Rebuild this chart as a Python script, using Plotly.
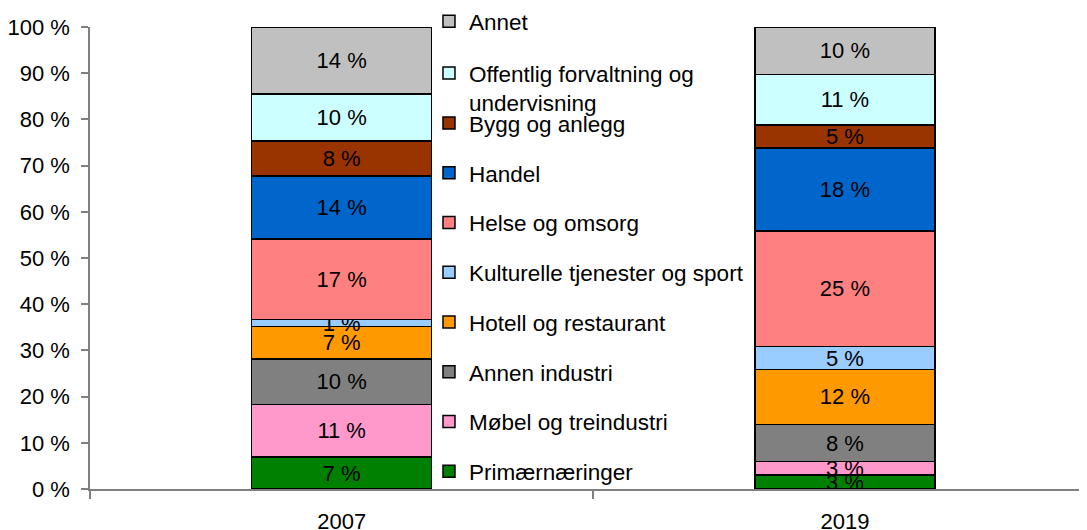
import plotly.graph_objects as go

years = ["2007", "2019"]
sectors = [
    "Primærnæringer",
    "Møbel og treindustri",
    "Annen industri",
    "Hotell og restaurant",
    "Kulturelle tjenester og sport",
    "Helse og omsorg",
    "Handel",
    "Bygg og anlegg",
    "Offentlig forvaltning og<br>undervisning",
    "Annet",
]
share_2007 = [6.9, 11.4, 9.8, 7.1, 1.45, 17.49, 13.6, 7.6, 10.2, 14.4]
share_2019 = [3.0, 2.9, 8.1, 11.9, 4.9, 25.0, 18.0, 5.0, 10.9, 10.25]
colors = ["#008000", "#FF99CC", "#808080", "#FF9900", "#99CCFF",
          "#FF8080", "#0066CC", "#993300", "#CCFFFF", "#C0C0C0"]
# top two sectors go in the upper legend block, the rest in the lower one
legend_ref = ["legend2"] * 8 + ["legend"] * 2

FONT = "Liberation Sans, Arial, sans-serif"
FS = 22
LFS = 22.5

fig = go.Figure()
n = len(sectors)
for i, name in enumerate(sectors):
    fig.add_trace(go.Bar(
        x=years,
        y=[share_2007[i], share_2019[i]],
        name=name,
        legendgroup=f"g{i}",
        legendrank=100 + (n - i),
        legend=legend_ref[i],
        marker=dict(color=colors[i], line=dict(color="#000000", width=1.5)),
        width=0.358,
        texttemplate="%{y:.0f} %",
        textposition="inside",
        insidetextanchor="middle",
        textangle=0,
        insidetextfont=dict(color="#000000", size=FS, family=FONT),
        cliponaxis=False,
        hoverinfo="skip",
    ))

legend_common = dict(
    xref="paper", yref="paper", xanchor="left", yanchor="top",
    traceorder="grouped", valign="top",
    bgcolor="rgba(0,0,0,0)", borderwidth=0,
    font=dict(family=FONT, size=LFS, color="#000000"),
    itemclick=False, itemdoubleclick=False,
)

# the page body has an 8px margin, so the figure is drawn 8px smaller
fig.update_layout(
    width=1079, height=522,
    margin=dict(l=82, r=0, t=19, b=41, autoexpand=False),
    barmode="stack",
    plot_bgcolor="#FFFFFF", paper_bgcolor="#FFFFFF",
    font=dict(family=FONT, size=FS, color="#000000"),
    uniformtext=dict(minsize=FS, mode="show"),
    showlegend=True,
    legend=dict(x=0.340, y=1.058, tracegroupgap=19.5, **legend_common),
    legend2=dict(x=0.340, y=0.838, tracegroupgap=17.5, **legend_common),
    xaxis=dict(
        type="category", range=[-0.5, 1.481],
        showline=True, linecolor="#808080", linewidth=1.5,
        ticks="outside", tickson="boundaries", ticklen=8,
        tickcolor="#808080", tickwidth=1.5,
        ticklabelstandoff=12,
        showgrid=False, zeroline=False,
        tickfont=dict(family=FONT, size=FS, color="#000000"),
    ),
    yaxis=dict(
        range=[0, 100], dtick=10, tick0=0, ticksuffix=" %",
        showline=True, linecolor="#808080", linewidth=1.5,
        ticks="outside", ticklen=7, tickcolor="#808080", tickwidth=1.5,
        ticklabelstandoff=7,
        showgrid=False, zeroline=False,
        tickfont=dict(family=FONT, size=FS, color="#000000"),
    ),
)

fig.write_html("out.html")
